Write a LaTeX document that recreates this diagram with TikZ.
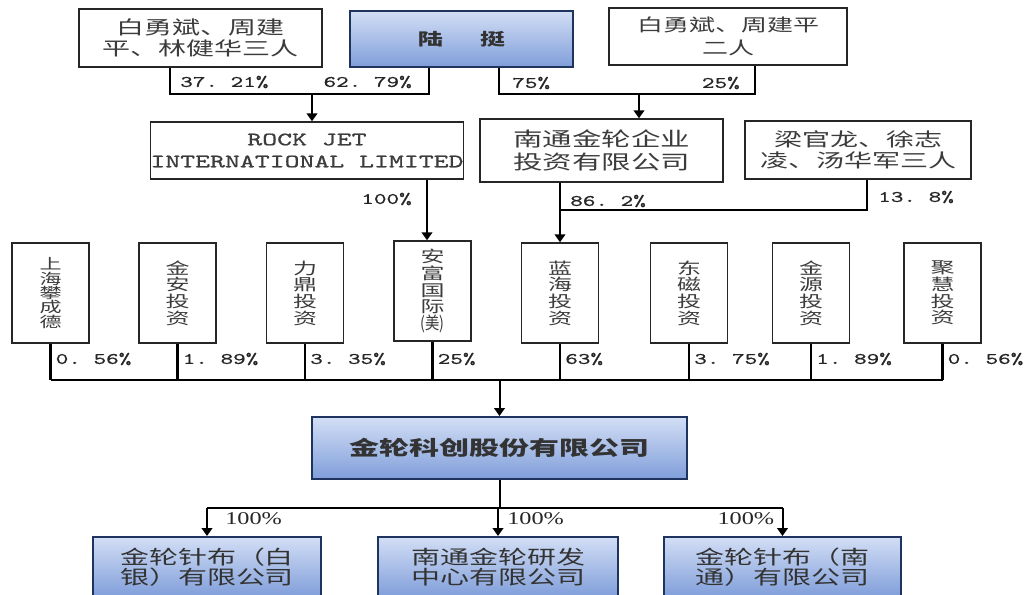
\documentclass[tikz,border=0pt]{standalone}
\usepackage{fontspec}
\usepackage{xcolor}
\usepackage{tikz}
\usetikzlibrary{arrows.meta,calc}
\setmainfont{Liberation Serif}
\newfontfamily\cjk[FakeStretch=1.5]{Noto Sans CJK SC}
\newfontfamily\mono[FakeStretch=1.5,FakeBold=0.8]{lmmono10-regular.otf}
\newfontfamily\num[FakeStretch=1.35]{Liberation Serif}
\definecolor{boxtop}{RGB}{210,222,245}
\definecolor{boxbot}{RGB}{128,158,218}
\definecolor{boxline}{RGB}{30,52,94}
\definecolor{txtgray}{RGB}{60,60,60}

\begin{document}
\begin{tikzpicture}[x=0.75pt,y=-0.75pt,
	sz/.style 2 args={minimum width=#1*0.75pt,minimum height=#2*0.75pt},
	wbox/.style={draw=black!85,line width=1.1pt,fill=white,align=center,text=txtgray,inner sep=0pt},
	bbox/.style={draw=boxline,line width=1.5pt,top color=boxtop,bottom color=boxbot,align=center,text=black!80,inner sep=0pt},
	vbox/.style={wbox,sz={77}{100},font=\cjk\fontsize{12}{12.5}\selectfont},
	link/.style={line width=1.5pt},
	arr/.style={link,-{Triangle[width=8pt,length=6pt]}},
	pct/.style={font=\mono\fontsize{12}{12}\selectfont,text=black!85,inner sep=0pt},
	pctb/.style={font=\num\fontsize{13.5}{13.5}\selectfont,text=black!85,inner sep=0pt}]
	\clip (0,0) rectangle (1033,594);
	\fill[white] (0,0) rectangle (1033,594);
	% shareholders
	\node[wbox,sz={243}{58},font=\cjk\fontsize{14}{15.75}\selectfont] (bys3) at (200.5,38) {白勇斌、周建\\平、林健华三人};
	\node[bbox,sz={223}{56},font=\cjk\bfseries\fontsize{12.5}{14}\selectfont] (luting) at (461.5,39) {陆\hspace{28pt}挺};
	\node[wbox,sz={238}{57},font=\cjk\fontsize{13}{17}\selectfont] (bz2) at (728,36.5) {白勇斌、周建平\\二人};
	\node[wbox,sz={312}{57},font=\mono\fontsize{14.2}{16.5}\selectfont] (rockjet) at (307,150.5) {ROCK JET\\INTERNATIONAL LIMITED};
	\node[wbox,sz={243}{63},font=\cjk\fontsize{14.75}{17.25}\selectfont] (ntjl) at (601.5,150.5) {南通金轮企业\\投资有限公司};
	\node[wbox,sz={226}{58},font=\cjk\fontsize{14}{16}\selectfont] (lgl) at (858,150) {梁官龙、徐志\\凌、汤华军三人};
	% investors
	\node[vbox,font=\cjk\fontsize{11}{10.7}\selectfont] (v1) at (50.5,293) {上\\海\\攀\\成\\德};
	\node[vbox] (v2) at (177.5,293) {金\\安\\投\\资};
	\node[vbox] (v3) at (305,293) {力\\鼎\\投\\资};
	\node[vbox] (v4) at (432.5,291) {安\\富\\国\\际\\\scalebox{0.55}[1]{\fontsize{13}{13}\selectfont(美)}};
	\node[vbox] (v5) at (560,293) {蓝\\海\\投\\资};
	\node[vbox] (v6) at (689,293) {东\\磁\\投\\资};
	\node[vbox] (v7) at (811,293) {金\\源\\投\\资};
	\node[vbox] (v8) at (942.5,293) {聚\\慧\\投\\资};
	% company and subsidiaries
	\node[bbox,sz={375}{62},font=\cjk\bfseries\fontsize{15}{15}\selectfont] (jlkc) at (499.5,448) {金轮科创股份有限公司};
	\node[bbox,sz={228}{60},font=\cjk\fontsize{14.5}{15}\selectfont] (c1) at (207,567) {金轮针布（白\\银）有限公司};
	\node[bbox,sz={240}{60},font=\cjk\fontsize{14.5}{15}\selectfont] (c2) at (498,567) {南通金轮研发\\中心有限公司};
	\node[bbox,sz={237}{60},font=\cjk\fontsize{14.5}{15}\selectfont] (c3) at (782.5,567) {金轮针布（南\\通）有限公司};
	% top links
	\coordinate (j1) at (312,94);
	\coordinate (j2) at (639,94);
	\draw[link] ($(bys3.south)+(-30.5,0)$) |- (j1) -| ($(luting.south)+(-32.5,0)$);
	\draw[arr] (j1) -- (j1 |- rockjet.north);
	\draw[link] ($(luting.south)+(37.5,0)$) |- (j2) -| ($(bz2.south)+(27,0)$);
	\draw[arr] (j2) -- (j2 |- ntjl.north);
	\node[pct,anchor=west] (l1) at (180,82) {37.~21\%};
	\node[pct,anchor=east] (l2) at (412,82) {62.~79\%};
	\node[pct,anchor=west] (l3) at (512,83) {75\%};
	\node[pct,anchor=east] (l4) at (740,83) {25\%};
	% second row links
	\coordinate (r1) at ($(rockjet.south)+(120,0)$);
	\coordinate (n1) at ($(ntjl.south)+(-41.5,0)$);
	\coordinate (j3) at (560,210);
	\draw[arr] (r1) -- (r1 |- v4.north);
	\draw[arr] (n1) -- (n1 |- v5.north);
	\draw[link] (j3) -| ($(lgl.south)+(9,0)$);
	\node[pct,anchor=east] (l5) at (412,199) {100\%};
	\node[pct,anchor=west] (l6) at (570,201) {86.~2\%};
	\node[pct,anchor=west] (l7) at (878,197) {13.~8\%};
	% bus to company
	\coordinate (bus) at (0,380);
	\foreach \i in {1,...,8}
		\draw[line width=2pt] (v\i.south) -- (v\i.south |- bus);
	\draw[link] (v1.south |- bus) -- (v8.south |- bus);
	\draw[arr] (jlkc.north |- bus) -- (jlkc.north);
	\foreach \i/\p in {1/0.~56\%,2/1.~89\%,3/3.~35\%,4/25\%,5/63\%,6/3.~75\%,7/1.~89\%,8/0.~56\%}
		\node[pct,anchor=west] (p\i) at ($(v\i.south |- bus)+(5,-21)$) {\p};
	% subsidiaries
	\coordinate (j4) at (499.5,508);
	\draw[link] (jlkc.south) -- (j4);
	\draw[link] (c1.north |- j4) -- (c3.north |- j4);
	\foreach \c in {c1,c2,c3}
		\draw[arr] (\c.north |- j4) -- (\c.north);
	\node[pctb,anchor=west] (s1) at ($(c1.north |- j4)+(18,11)$) {100\%};
	\node[pctb,anchor=west] (s2) at ($(c2.north |- j4)+(9,11)$) {100\%};
	\node[pctb,anchor=east] (s3) at ($(c3.north |- j4)+(-8,11)$) {100\%};
\end{tikzpicture}
\end{document}
